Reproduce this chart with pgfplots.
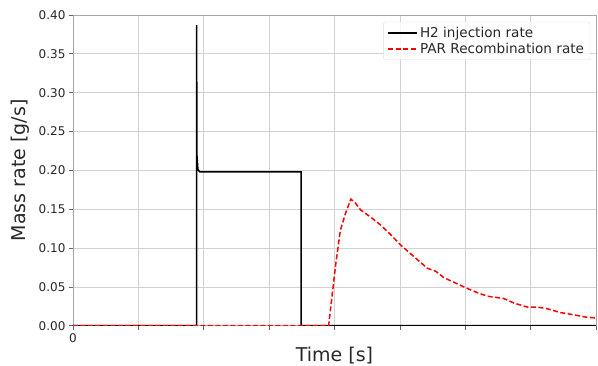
\documentclass[border=0pt]{standalone}
\usepackage{pgfplots}
\pgfplotsset{compat=1.18}
\usepackage{fontspec}
\setmainfont{DejaVu Sans}
\definecolor{tickgray}{RGB}{40,40,40}
\pgfplotsset{mylegend/.style={legend image code/.code={\draw[#1] (0pt,0pt) -- (29pt,0pt);}}}
\begin{document}
\begin{tikzpicture}
\begin{axis}[
  name=ax,
  scale only axis,
  width=523pt, height=310.7pt,
  xmin=0, xmax=8, ymin=0, ymax=0.4,
  xtick={0,1,2,3,4,5,6,7,8},
  xticklabels={0},
  ytick={0,0.05,0.1,0.15,0.2,0.25,0.3,0.35,0.4},
  yticklabel style={/pgf/number format/fixed,/pgf/number format/fixed zerofill,/pgf/number format/precision=2},
  /pgf/number format/assume math mode=true,
  ticklabel style={font=\fontsize{12}{14}\selectfont, text=tickgray},
  grid=major,
  grid style={gray!35, line width=0.7pt},
  axis line style={gray!70, line width=0.8pt},
  tick style={gray!80!black, line width=0.7pt},
  tick align=outside,
  major tick length=4pt,
  xtick pos=bottom, ytick pos=left,
  xlabel={Time [s]},
  ylabel={Mass rate [g/s]},
  label style={font=\fontsize{19}{22}\selectfont, text=tickgray},
  xlabel style={at={(axis description cs:0.5,-0.0966)}, anchor=center},
  ylabel style={at={(axis description cs:-0.1002,0.5)}, anchor=center},
  legend style={at={(axis description cs:0.989,0.978)}, anchor=north east,
    draw=gray!25, rounded corners=2pt, fill=white, fill opacity=0.8, text opacity=1,
    font=\fontsize{13.6}{15}\selectfont, text=tickgray, row sep=0pt, inner xsep=4pt, inner ysep=3pt},
  legend cell align=left,
]
\addplot[black, line width=1.6pt, mylegend] coordinates {
 (0,0) (1.89,0) (1.89,0.387) (1.895,0.22) (1.91,0.201) (1.94,0.198)
 (2.3,0.198) (2.7,0.198) (3.1,0.198) (3.49,0.198) (3.49,0) (8,0)
};
\addlegendentry{H2 injection rate}
\addplot[red, line width=1.5pt, dash pattern=on 5pt off 2.5pt, mylegend] coordinates {
 (0,0) (3.91,0) (4.02,0.08) (4.09,0.123) (4.17,0.145) (4.25,0.163) (4.32,0.158) (4.40,0.149)
 (4.55,0.140) (4.70,0.130) (4.85,0.118) (5.01,0.104) (5.20,0.090) (5.42,0.074) (5.55,0.070)
 (5.67,0.062) (5.85,0.055) (6.03,0.048) (6.20,0.042) (6.34,0.038) (6.59,0.035) (6.75,0.029)
 (6.95,0.024) (7.10,0.024) (7.25,0.022) (7.45,0.017) (7.66,0.014) (7.85,0.011) (8.0,0.010)
};
\addlegendentry{PAR Recombination rate}
\end{axis}
\pgfresetboundingbox
\path (ax.south west) ++(-73pt,-39.3pt) rectangle ++(598pt,365pt);
\end{tikzpicture}
\end{document}
